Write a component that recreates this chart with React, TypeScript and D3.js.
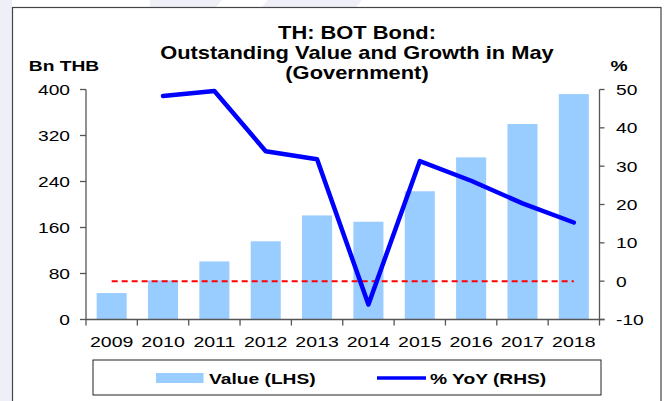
import React from "react";
import * as d3 from "d3";

const years = ["2009", "2010", "2011", "2012", "2013", "2014", "2015", "2016", "2017", "2018"];
const values = [46, 68, 101, 136, 181, 170, 223, 282, 340, 392];
const yoy: (number | null)[] = [null, 48.3, 49.6, 33.9, 31.8, -6.1, 31.3, 26.2, 20.3, 15.3];
const leftTicks = [0, 80, 160, 240, 320, 400];
const rightTicks = [-10, 0, 10, 20, 30, 40, 50];
const titleLines = ["TH: BOT Bond:", "Outstanding Value and Growth in May", "(Government)"];

const W = 665;
const H = 401;
const FONT = "'Liberation Sans', Arial, sans-serif";
const SX = 1.24;

function T(props: {
  x: number;
  y: number;
  size: number;
  bold?: boolean;
  anchor?: "start" | "middle" | "end";
  sx?: number;
  children: React.ReactNode;
}) {
  const { x, y, size, bold, anchor = "start", sx = SX, children } = props;
  return (
    <text
      transform={`translate(${x},${y}) scale(${sx},1)`}
      fontFamily={FONT}
      fontSize={size}
      fontWeight={bold ? "bold" : "normal"}
      textAnchor={anchor}
      fill="#000"
    >
      {children}
    </text>
  );
}

export default function App() {
  const x0 = 86;
  const x1 = 599.5;
  const yTop = 89.5;
  const yBot = 319.5;

  const x = d3.scaleBand<string>().domain(years).range([x0, x1]).paddingInner(0.415).paddingOuter(0.2075);
  const band = d3.scaleBand<string>().domain(years).range([x0, x1]);
  const yL = d3.scaleLinear().domain([0, 400]).range([yBot, yTop]);
  const yR = d3.scaleLinear().domain([-10, 50]).range([yBot, yTop]);
  const cx = (yr: string) => (band(yr) as number) + band.bandwidth() / 2;

  const line = d3
    .line<number | null>()
    .defined((d) => d !== null)
    .x((_, i) => cx(years[i]))
    .y((d) => yR(d as number));

  const axisColor = "#555";

  return (
    <svg
      width={W}
      height={H}
      style={{ position: "fixed", left: 0, top: 0, display: "block", background: "#fff" }}
    >
      {/* background watermark */}
      <rect x={0} y={0} width={12} height={H} fill="#efeff8" />
      <polygon points="150,0 222,0 216,7 150,7" fill="#efeff8" />
      <polygon points="268,0 362,0 356,7 262,7" fill="#efeff8" />
      <rect x={12.5} y={7.5} width={648.5} height={400} fill="#fff" stroke="#444" strokeWidth={1.2} />

      {/* title */}
      {titleLines.map((t, i) => (
        <T key={t} x={357} y={38.5 + i * 20} size={17.5} bold anchor="middle" sx={1.25}>
          {t}
        </T>
      ))}
      <T x={64} y={71} size={15.5} bold anchor="middle">
        Bn THB
      </T>
      <T x={619} y={71} size={15.5} bold anchor="middle">
        %
      </T>

      {/* bars */}
      {years.map((yr, i) => (
        <rect
          key={yr}
          x={x(yr)}
          y={yL(values[i])}
          width={x.bandwidth()}
          height={yBot - yL(values[i])}
          fill="#99ccff"
        />
      ))}

      {/* zero dashed line */}
      <line
        x1={cx(years[0])}
        x2={cx(years[years.length - 1])}
        y1={yR(0)}
        y2={yR(0)}
        stroke="#ff0000"
        strokeWidth={2}
        strokeDasharray="6,4"
      />

      {/* yoy line */}
      <path d={line(yoy) || ""} fill="none" stroke="#0000ff" strokeWidth={4.5} strokeLinejoin="round" strokeLinecap="round" />

      {/* left axis */}
      <line x1={x0} x2={x0} y1={yTop} y2={yBot} stroke={axisColor} strokeWidth={1.3} />
      {leftTicks.map((t) => (
        <g key={t}>
          <line x1={x0 - 6} x2={x0} y1={yL(t)} y2={yL(t)} stroke={axisColor} strokeWidth={1.3} />
          <T x={70} y={yL(t) + 5.5} size={15.5} anchor="end">
            {t}
          </T>
        </g>
      ))}

      {/* right axis */}
      <line x1={x1} x2={x1} y1={yTop} y2={yBot} stroke={axisColor} strokeWidth={1.3} />
      {rightTicks.map((t) => (
        <g key={t}>
          <line x1={x1} x2={x1 + 5} y1={yR(t)} y2={yR(t)} stroke={axisColor} strokeWidth={1.3} />
          <T x={616} y={yR(t) + 5.5} size={15.5} anchor="start">
            {t}
          </T>
        </g>
      ))}

      {/* x axis */}
      <line x1={x0} x2={x1 + 5} y1={yBot} y2={yBot} stroke={axisColor} strokeWidth={1.3} />
      {years.map((yr) => (
        <line
          key={"t" + yr}
          x1={band(yr) as number}
          x2={band(yr) as number}
          y1={yBot}
          y2={yBot + 6}
          stroke={axisColor}
          strokeWidth={1.3}
        />
      ))}
      <line x1={x1} x2={x1} y1={yBot} y2={yBot + 6} stroke={axisColor} strokeWidth={1.3} />
      {years.map((yr) => (
        <T key={"l" + yr} x={cx(yr)} y={347} size={15.5} anchor="middle" sx={1.26}>
          {yr}
        </T>
      ))}

      {/* legend */}
      <rect x={93} y={360} width={508} height={35} fill="#fff" stroke="#222" strokeWidth={1} />
      <rect x={156} y={373} width={47.5} height={10} fill="#99ccff" />
      <T x={209} y={383.5} size={15.5} bold>
        Value (LHS)
      </T>
      <line x1={377} x2={426} y1={378} y2={378} stroke="#0000ff" strokeWidth={3.5} />
      <T x={430} y={383.5} size={15.5} bold>
        % YoY (RHS)
      </T>
    </svg>
  );
}
